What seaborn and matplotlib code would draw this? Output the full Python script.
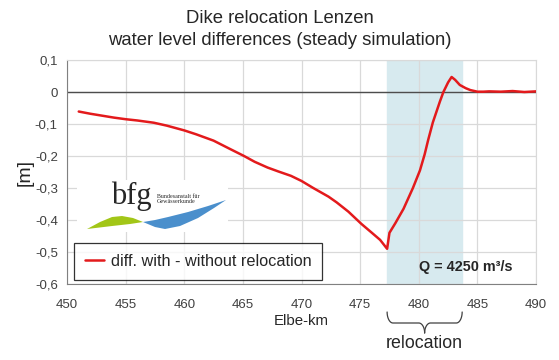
import numpy as np
import pandas as pd
import seaborn as sns
import matplotlib.pyplot as plt
from matplotlib.transforms import blended_transform_factory

# Elbe-km positions and water level differences [m]
km = [451.0, 452, 453, 454, 455, 456, 457.4, 458.5, 460, 461, 462.5, 463.9,
      465.1, 466, 467.1, 468, 469.1, 470, 471, 472.3, 473, 474, 475.1, 476,
      476.7, 477.3, 477.5, 478, 478.7, 479.5, 480.1, 480.5, 480.8, 481.2,
      481.8, 482.1, 482.5, 482.8, 483.1, 483.5, 484, 484.4, 485, 485.5, 486,
      487, 488, 489, 490]
diff = [-0.061, -0.068, -0.074, -0.080, -0.085, -0.089, -0.096, -0.105,
        -0.120, -0.132, -0.152, -0.178, -0.200, -0.218, -0.236, -0.248,
        -0.262, -0.278, -0.300, -0.327, -0.345, -0.374, -0.412, -0.440,
        -0.462, -0.490, -0.440, -0.410, -0.365, -0.300, -0.245, -0.195,
        -0.150, -0.095, -0.030, 0.000, 0.030, 0.047, 0.038, 0.022, 0.012,
        0.006, 0.001, 0.001, 0.002, 0.001, 0.003, 0.000, 0.002]
relocation_span = (477.3, 483.7)
x_ticks = [450, 455, 460, 465, 470, 475, 480, 485, 490]
y_ticks = [-0.6, -0.5, -0.4, -0.3, -0.2, -0.1, 0.0, 0.1]
y_labels = ['-0,6', '-0,5', '-0,4', '-0,3', '-0,2', '-0,1', '0', '0,1']

df = pd.DataFrame({'Elbe-km': km, 'diff': diff})

sns.set_style('white')
plt.rcParams['font.family'] = ['Liberation Sans', 'DejaVu Sans']

fig = plt.figure(figsize=(5.59, 3.6), dpi=100)
ax = fig.add_axes([0.1199, 0.2111, 0.839, 0.6222])

# shaded relocation area
ax.axvspan(*relocation_span, color='#d7eaef', zorder=0)

sns.lineplot(data=df, x='Elbe-km', y='diff', color='#e31a1c', linewidth=1.8,
             ax=ax, label='diff. with - without relocation', zorder=3)

ax.set_xlim(450, 490)
ax.set_ylim(-0.6, 0.1)
ax.set_xticks(x_ticks)
ax.set_yticks(y_ticks)
ax.set_yticklabels(y_labels)
ax.grid(True, color='#d9d9d9', linewidth=0.9, zorder=1)
ax.set_axisbelow(True)
ax.axhline(0, color='#4d4d4d', linewidth=1.0, zorder=2)

for side in ['top', 'right']:
    ax.spines[side].set_color('#d9d9d9')
for side in ['left', 'bottom']:
    ax.spines[side].set_color('#808080')
ax.tick_params(axis='both', colors='#808080', labelcolor='#404040',
               labelsize=9.5, length=3.6, direction='out')
ax.tick_params(axis='x', length=0, pad=11)
ax.tick_params(axis='y', pad=3)

ax.set_xlabel('Elbe-km', fontsize=10.8, labelpad=2)
ax.set_ylabel('[m]', fontsize=14, labelpad=1)

fig.suptitle('Dike relocation Lenzen\nwater level differences (steady simulation)',
             fontsize=13.3, y=0.972, linespacing=1.35)

leg = ax.legend(loc='lower left', bbox_to_anchor=(0.015, 0.02), fontsize=11.7,
                frameon=True, fancybox=False, edgecolor='black',
                handlelength=1.2, handletextpad=0.4, borderpad=0.65,
                borderaxespad=0)
leg.get_frame().set_linewidth(0.9)

ax.text(0.851, 0.076, 'Q = 4250 m\u00b3/s', transform=ax.transAxes,
        ha='center', va='center', fontsize=10.4, fontweight='bold')

# bfg logo
def px(x, y):
    return (x - 67) / 469, (284 - y) / 224

bx0, by0 = px(77, 232)
bx1, by1 = px(228, 180)
ax.add_patch(plt.Rectangle((bx0, by0), bx1 - bx0, by1 - by0, transform=ax.transAxes,
                           facecolor='white', edgecolor='none', zorder=4))
green = [px(*p) for p in [(87, 229), (100, 222), (112, 217), (122, 216), (133, 218),
                          (143, 222), (130, 224), (112, 226)]]
blue = [px(*p) for p in [(143, 222), (155, 227), (165, 229), (180, 226), (198, 218),
                         (214, 208), (226, 200), (208, 206), (188, 212), (168, 217),
                         (155, 220)]]
ax.add_patch(plt.Polygon(green, closed=True, transform=ax.transAxes,
                         facecolor='#a2c617', edgecolor='none', zorder=5))
ax.add_patch(plt.Polygon(blue, closed=True, transform=ax.transAxes,
                         facecolor='#4a8fcc', edgecolor='none', zorder=5))
tx, ty = px(111, 204)
ax.text(tx, ty, 'bfg', transform=ax.transAxes, fontsize=22,
        family='Liberation Serif', ha='left', va='baseline', zorder=6)
sx, sy = px(157, 199)
ax.text(sx, sy, 'Bundesanstalt f\u00fcr\nGew\u00e4sserkunde', transform=ax.transAxes,
        fontsize=4.3, family='Liberation Serif', ha='left', va='center',
        linespacing=1.1, zorder=6)

# curly brace under the relocation span
trans = blended_transform_factory(ax.transData, fig.transFigure)
x0, x1 = relocation_span
xm = (x0 + x1) / 2
y_top, y_mid, y_tip = 1 - 312 / 360, 1 - 323 / 360, 1 - 333 / 360
r = 0.5
t = np.linspace(0, np.pi / 2, 20)
left_curve_x = np.concatenate([x0 + r * (1 - np.cos(t)), xm - r + r * np.sin(t)])
left_curve_y = np.concatenate([y_top - (y_top - y_mid) * np.sin(t),
                               y_mid - (y_mid - y_tip) * (1 - np.cos(t))])
ax.plot(left_curve_x, left_curve_y, color='#404040', lw=0.9, transform=trans,
        clip_on=False)
ax.plot(x0 + x1 - left_curve_x, left_curve_y, color='#404040', lw=0.9,
        transform=trans, clip_on=False)
ax.text(xm, 1 - 343 / 360, 'relocation', transform=trans, ha='center',
        va='center', fontsize=12.8)

fig.savefig('out.png', dpi=100)
